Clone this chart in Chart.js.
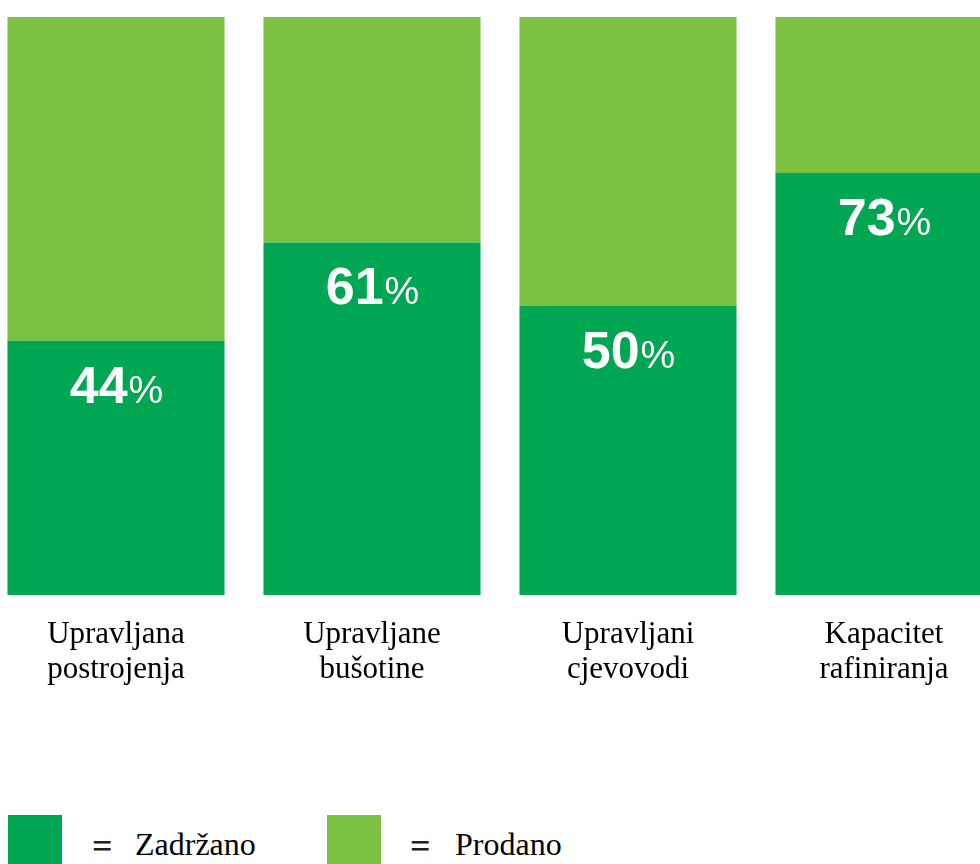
<!DOCTYPE html>
<html>
<head>
<meta charset="utf-8">
<script src="https://cdn.jsdelivr.net/npm/chart.js@4.4.1/dist/chart.umd.min.js"></script>
<style>
    html, body { margin: 0; padding: 0; background: #fff; }
    body { width: 980px; height: 864px; position: relative; overflow: hidden; }
    #wrap { position: absolute; left: -12px; top: 0; width: 1024px; height: 720px; }
    .sq { position: absolute; top: 815px; width: 54px; height: 54px; }
    .lg { position: absolute; top: 828px; font-family: "Liberation Serif", "Times New Roman", serif; font-size: 32px; line-height: 32px; color: #000; white-space: nowrap; }
    .eq { font-size: 36px; font-weight: bold; top: 830px; color: #222; }
</style>
</head>
<body>
<div id="wrap"><canvas id="chart"></canvas></div>

<div class="sq" style="left:8px;background:#00A651"></div>
<span class="lg eq" style="left:92px">=</span>
<span class="lg" style="left:135px">Zadržano</span>
<div class="sq" style="left:327px;background:#7CC242"></div>
<span class="lg eq" style="left:410px">=</span>
<span class="lg" style="left:455px">Prodano</span>

<script>
// podaci
const categories = [
    ['Upravljana', 'postrojenja'],
    ['Upravljane', 'bušotine'],
    ['Upravljani', 'cjevovodi'],
    ['Kapacitet', 'rafiniranja']
];
const zadrzano = [44, 61, 50, 73];
const prodano = [56, 39, 50, 27];

const DARK = '#00A651';
const LIGHT = '#7CC242';

// postotak na tamnom dijelu stupca
const pctLabels = {
    id: 'pctLabels',
    afterDatasetsDraw(chart) {
        let ctx = chart.ctx;
        let meta = chart.getDatasetMeta(0);
        ctx.save();
        ctx.fillStyle = '#fff';
        ctx.textBaseline = 'alphabetic';
        ctx.textAlign = 'left';
        meta.data.forEach((bar, i) => {
            let num = String(zadrzano[i]);
            ctx.font = 'bold 52px "Liberation Sans", Arial, sans-serif';
            let w1 = ctx.measureText(num).width;
            ctx.font = '39px "Liberation Sans", Arial, sans-serif';
            let w2 = ctx.measureText('%').width;
            let x0 = bar.x - (w1 + w2) / 2;
            let y = bar.y + 62;
            ctx.font = 'bold 52px "Liberation Sans", Arial, sans-serif';
            ctx.fillText(num, x0, y);
            ctx.font = '39px "Liberation Sans", Arial, sans-serif';
            ctx.fillText('%', x0 + w1 + 1, y);
        });
        ctx.restore();
    }
};

new Chart(document.getElementById('chart'), {
    type: 'bar',
    data: {
        labels: categories,
        datasets: [
            { label: 'Zadržano', data: zadrzano, backgroundColor: DARK },
            { label: 'Prodano', data: prodano, backgroundColor: LIGHT }
        ]
    },
    options: {
        responsive: true,
        maintainAspectRatio: false,
        animation: false,
        events: [],
        layout: { padding: { top: 17, left: 0, right: 0, bottom: 0 } },
        datasets: {
            bar: { barPercentage: 0.848, categoryPercentage: 1, borderWidth: 0 }
        },
        plugins: {
            legend: { display: false },
            tooltip: { enabled: false }
        },
        scales: {
            x: {
                stacked: true,
                grid: { display: false, drawTicks: false },
                border: { display: false },
                ticks: {
                    color: '#000',
                    padding: 22,
                    maxRotation: 0,
                    autoSkip: false,
                    font: { family: '"Liberation Serif", "Times New Roman", serif', size: 31, lineHeight: '35px' }
                },
                afterFit: function (scale) { scale.height = 125; }
            },
            y: {
                stacked: true,
                display: false,
                min: 0,
                max: 100
            }
        }
    },
    plugins: [pctLabels]
});
</script>
</body>
</html>
